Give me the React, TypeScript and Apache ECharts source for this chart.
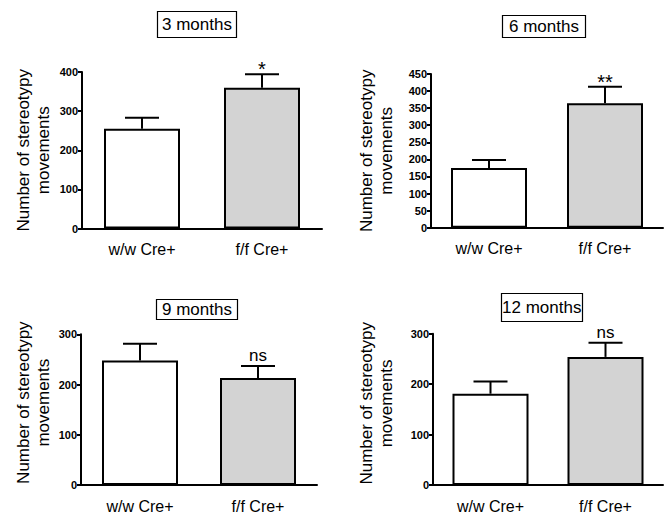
import React, { useEffect, useRef } from "react";
import * as echarts from "echarts";

const categories = ["w/w Cre+", "f/f Cre+"];
const panelTitles = ["3 months", "6 months", "9 months", "12 months"];
const means3 = [255, 360];
const sem3 = [28, 34];
const sig3 = ["", "*"];
const means6 = [175, 364];
const sem6 = [23, 49];
const sig6 = ["", "**"];
const means9 = [248, 213];
const sem9 = [33, 24];
const sig9 = ["", "ns"];
const means12 = [181, 254];
const sem12 = [24, 28];
const sig12 = ["", "ns"];
const yMax = [400, 450, 300, 300];
const yInterval = [100, 50, 100, 100];

const FONT = "'Liberation Sans', Arial, Helvetica, sans-serif";
const barColors = ["#ffffff", "#d3d3d3"];

const panels = [
  { means: means3, sem: sem3, sig: sig3 },
  { means: means6, sem: sem6, sig: sig6 },
  { means: means9, sem: sem9, sig: sig9 },
  { means: means12, sem: sem12, sig: sig12 },
];

const grids = [
  { left: 82, top: 72, width: 240, height: 156.5 },
  { left: 431, top: 74, width: 232, height: 153.7 },
  { left: 81, top: 334.3, width: 236, height: 154.4 },
  { left: 433, top: 333.7, width: 230, height: 154 },
];
const nameGaps = [29, 35, 28, 37];
const namePads = [0, 0, 14, 12];
const titleBoxes = [
  { left: 157, top: 11, padding: [5, 5] },
  { left: 502, top: 15, padding: [3, 7] },
  { left: 156, top: 299, padding: [2, 6] },
  { left: 501, top: 293, padding: [6, 1] },
];

export default function App() {
  const ref = useRef<HTMLDivElement>(null);
  useEffect(() => {
    if (!ref.current) return;
    const chart = echarts.init(ref.current, null, { renderer: "svg" });
    const option: any = {
      animation: false,
      backgroundColor: "#ffffff",
      title: panelTitles.map((t, i) => ({
        text: t,
        left: titleBoxes[i].left,
        top: titleBoxes[i].top,
        padding: titleBoxes[i].padding,
        borderColor: "#000",
        borderWidth: 1.2,
        textStyle: {
          fontFamily: FONT,
          fontSize: 17,
          fontWeight: "normal",
          color: "#000",
          lineHeight: 17,
        },
      })),
      grid: grids,
      xAxis: grids.map((_, i) => ({
        type: "category",
        gridIndex: i,
        data: categories,
        axisLine: { lineStyle: { color: "#000", width: 2 } },
        axisTick: { alignWithLabel: true, length: 5, lineStyle: { color: "#000", width: 2 } },
        axisLabel: { color: "#000", fontFamily: FONT, fontSize: 16, margin: 13, interval: 0 },
        splitLine: { show: false },
      })),
      yAxis: grids.map((_, i) => ({
        type: "value",
        gridIndex: i,
        min: 0,
        max: yMax[i],
        interval: yInterval[i],
        name: "Number of stereotypy\nmovements",
        nameLocation: "middle",
        nameRotate: 90,
        nameGap: nameGaps[i],
        nameTextStyle: {
          fontFamily: FONT,
          fontSize: 17,
          color: "#000",
          lineHeight: 20,
          padding: [0, 0, 0, namePads[i]],
        },
        axisLine: { show: true, lineStyle: { color: "#000", width: 2 } },
        axisTick: { show: true, length: 4, lineStyle: { color: "#000", width: 2 } },
        axisLabel: { color: "#000", fontFamily: FONT, fontSize: 11, fontWeight: "bold", margin: 4 },
        splitLine: { show: false },
      })),
      series: panels.flatMap((p, i) => [
        {
          type: "bar",
          xAxisIndex: i,
          yAxisIndex: i,
          barWidth: 76,
          data: p.means.map((v, j) => ({
            value: v,
            itemStyle: { color: barColors[j], borderColor: "#000", borderWidth: 2 },
          })),
          z: 2,
        },
        {
          type: "custom",
          xAxisIndex: i,
          yAxisIndex: i,
          z: 3,
          data: p.means.map((v, j) => [j, v, p.sem[j]]),
          renderItem: (params: any, api: any) => {
            const x = api.value(0);
            const m = api.value(1);
            const s = api.value(2);
            const base = api.coord([x, m]);
            const top = api.coord([x, m + s]);
            const half = 17;
            const label = p.sig[params.dataIndex];
            const isStar = label.indexOf("*") >= 0;
            const children: any[] = [
              {
                type: "line",
                shape: { x1: base[0], y1: base[1], x2: top[0], y2: top[1] },
                style: { stroke: "#000", lineWidth: 2 },
              },
              {
                type: "line",
                shape: { x1: top[0] - half, y1: top[1], x2: top[0] + half, y2: top[1] },
                style: { stroke: "#000", lineWidth: 2 },
              },
            ];
            if (label) {
              children.push({
                type: "text",
                style: {
                  text: label,
                  x: top[0],
                  y: isStar ? top[1] + 5 : top[1] - 2,
                  align: "center",
                  verticalAlign: "bottom",
                  fontFamily: FONT,
                  fontSize: isStar ? 20 : 17,
                  fill: "#000",
                },
              });
            }
            return { type: "group", children };
          },
        },
      ]),
    };
    chart.setOption(option);
    return () => chart.dispose();
  }, []);
  return (
    <div
      ref={ref}
      style={{ position: "absolute", left: 0, top: 0, width: 671, height: 514 }}
    />
  );
}
